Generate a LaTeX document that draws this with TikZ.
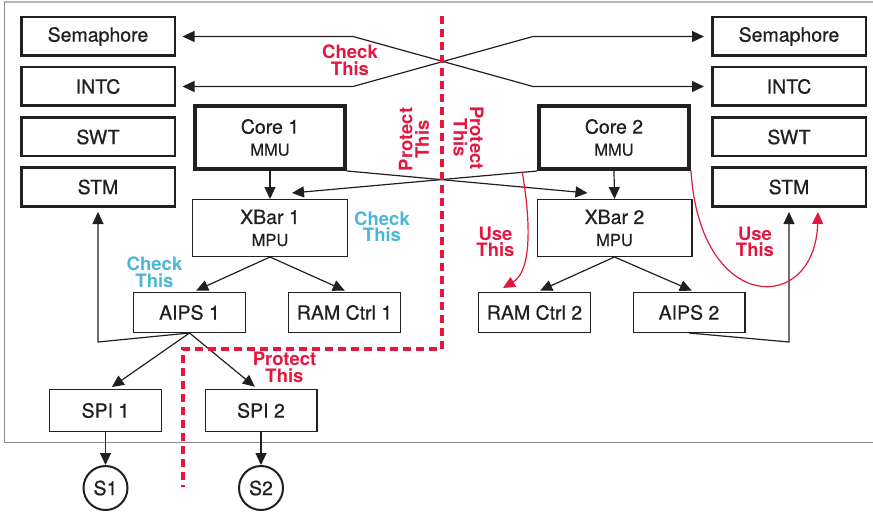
\documentclass[tikz,border=0pt]{standalone}
\usepackage{fontspec}
\setmainfont{TeX Gyre Heros}
\newfontfamily\medfont{TeX Gyre Heros}[FakeBold=0.6]
\usetikzlibrary{arrows.meta,calc}
\definecolor{ink}{HTML}{231F20}
\definecolor{warnred}{HTML}{E3173F}
\definecolor{hintcyan}{HTML}{4DB6D6}
\definecolor{framegray}{HTML}{8A8A8A}
\definecolor{frametop}{HTML}{B4B4B4}

\begin{document}
\begin{tikzpicture}[x=1pt,y=-1pt,
  periph/.style={draw=ink, line width=2.5pt, fill=white, minimum width=153.5pt,
    minimum height=38.5pt, inner sep=0pt, text=ink, font=\medfont\fontsize{19.5}{22}\selectfont},
  corebox/.style={draw=ink, line width=4pt, fill=white, minimum width=150pt,
    minimum height=63pt, inner sep=0pt, align=center, text=ink, font=\medfont\fontsize{19.5}{22}\selectfont},
  busbox/.style={draw=ink, line width=1.3pt, fill=white, minimum width=154.7pt,
    minimum height=56.7pt, inner sep=0pt, align=center, text=ink, font=\medfont\fontsize{19.5}{22}\selectfont},
  unit/.style={draw=ink, line width=1.3pt, fill=white, minimum width=111.7pt,
    minimum height=39.7pt, inner sep=0pt, text=ink, font=\medfont\fontsize{19.5}{22}\selectfont},
  spibox/.style={unit, minimum height=41.7pt},
  slave/.style={circle, draw=ink, line width=2pt, fill=white, minimum size=44pt,
    inner sep=0pt, text=ink, font=\medfont\fontsize{19.5}{22}\selectfont},
  note/.style={inner sep=0pt, align=center, font=\bfseries\fontsize{18.5}{16.5}\selectfont},
  conn/.style={draw=ink, line width=1.2pt, -{Triangle[length=12pt,width=11pt]}},
  usearrow/.style={draw=warnred, line width=1.2pt, -{Triangle[length=12pt,width=11pt]}},
]
\useasboundingbox (0,0) rectangle (873,516);

% outer chip boundary
\draw[frametop, line width=1.5pt] (873,2) -- (4,2);
\draw[framegray, line width=1pt] (4,2) -- (4,442) -- (873,442);

% shared peripherals, left and right
\node[periph] (semL)  at (98,36.5)  {Semaphore};
\node[periph] (intcL) at (98,86.5)  {INTC};
\node[periph] (swtL)  at (98,137)   {SWT};
\node[periph] (stmL)  at (98,187)   {STM};
\node[periph] (semR)  at (789,36.5) {Semaphore};
\node[periph] (intcR) at (789,86.5) {INTC};
\node[periph] (swtR)  at (789,137)  {SWT};
\node[periph] (stmR)  at (789,187)  {STM};

% cores and crossbars
\node[corebox] (core1) at (270,137.5) {Core 1\\\fontsize{16.5}{22}\selectfont MMU};
\node[corebox] (core2) at (614,137.5) {Core 2\\\fontsize{16.5}{22}\selectfont MMU};
\node[busbox] (xbar1) at (270,228)   {XBar 1\\\fontsize{16.5}{22}\selectfont MPU};
\node[busbox] (xbar2) at (614.5,228) {XBar 2\\\fontsize{16.5}{22}\selectfont MPU};

% slaves of the crossbars
\node[unit] (aips1) at (189.5,312.5) {AIPS 1};
\node[unit] (ram1)  at (344.5,312.5) {RAM Ctrl 1};
\node[unit] (ram2)  at (534.5,312.5) {RAM Ctrl 2};
\node[unit] (aips2) at (689,312.5)   {AIPS 2};

% serial interfaces and external devices
\node[spibox] (spi1) at (105.5,410.5) {SPI 1};
\node[spibox] (spi2) at (261,410.5)   {SPI 2};
\node[slave] (s1) at (105.5,488) {S1};
\node[slave] (s2) at (261,488)   {S2};

% crossed semaphore / interrupt links
\draw[conn, {Triangle[length=12pt,width=11pt]}-{Triangle[length=12pt,width=11pt]},
      shorten <=6.5pt, shorten >=7pt]
  (semL.east) -- (353,36.5) -- (533,86.5) -- (intcR.west);
\draw[conn, {Triangle[length=12pt,width=11pt]}-{Triangle[length=12pt,width=11pt]},
      shorten <=6.5pt, shorten >=7pt]
  (intcL.east) -- (353,86.5) -- (533,36.5) -- (semR.west);

% core to crossbar paths
\draw[conn] (core1.south) -- (xbar1.north);
\draw[conn] (core2.south) -- (xbar2.north);
\draw[conn] (core1.south east) -- ([xshift=51pt,yshift=6pt]xbar2.north west);
\draw[conn] (core2.south west) -- coordinate[pos=0.06] (useStart)
  ([xshift=-56pt,yshift=6pt]xbar1.north east);

% crossbar fan-out
\draw[conn, shorten >=3.5pt] (xbar1.south) -- ([xshift=3.5pt]aips1.north);
\draw[conn, shorten >=3.5pt] (xbar1.south) -- ([xshift=3.5pt]ram1.north);
\draw[conn, shorten >=3.5pt] (xbar2.south) -- ([xshift=2.5pt]ram2.north);
\draw[conn, shorten >=3.5pt] (xbar2.south) -- ([xshift=6pt]aips2.north);

% peripheral bridges back to the timers
\draw[conn, shorten >=4.5pt] (aips1.south) -- (stmL.south |- 0,342) -- (stmL.south);
\draw[conn, shorten >=4.5pt] (aips2.south) -- (stmR.south |- 0,342) -- (stmR.south);

% bridge to SPI and devices
\draw[conn, shorten >=3.5pt] (aips1.south) -- ([xshift=3.5pt]spi1.north);
\draw[conn, shorten >=3.5pt] (aips1.south) -- ([xshift=-3.5pt]spi2.north);
\draw[conn] (spi1.south) -- (s1.north);
\draw[conn] (spi2.south) -- (s2.north);

% recommended access paths
\draw[usearrow] (useStart) .. controls (532,230) and (530,272) ..
  ([xshift=-31.5pt,yshift=4pt]ram2.north);
\draw[usearrow] (core2.south east) .. controls (700,315) and (815,315) ..
  ([xshift=29pt,yshift=-4.5pt]stmR.south);

% partition boundary (thick red dashes)
\draw[color=warnred, line width=3.2pt, dash pattern=on 8pt off 5pt]
  (442,16) -- (442,349) -- (183,349) -- (183,487);

% annotations
\node[note, text=warnred] (chkTop) at (350,60) {Check\\This};
\node[note, text=hintcyan] (chkBus) at (382,226.5) {Check\\This};
\node[note, text=hintcyan] (chkBridge) at (154.5,272) {Check\\This};
\node[note, text=warnred] (protSpi) at (284.5,367.5) {Protect\\This};
\node[note, text=warnred] (useRam) at (495.5,242) {Use\\This};
\node[note, text=warnred] (useStm) at (755,242) {Use\\This};
\node[note, text=warnred, rotate=90] (protL) at (414,139.5) {Protect\\This};
\node[note, text=warnred, rotate=-90] (protR) at (468.5,138) {Protect\\This};
\end{tikzpicture}
\end{document}
